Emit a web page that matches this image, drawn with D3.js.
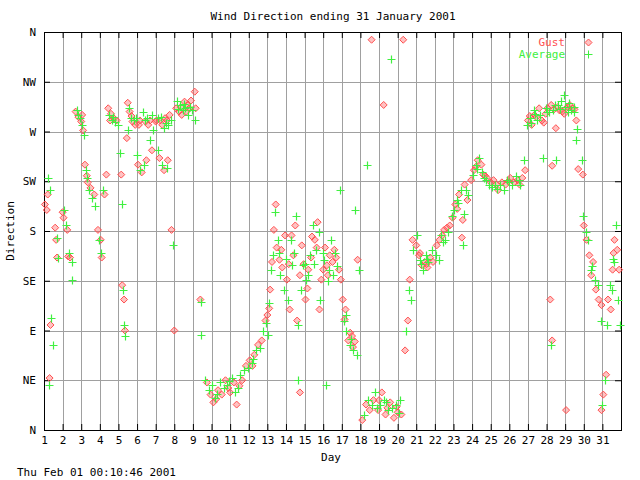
<!DOCTYPE html>
<html>
<head>
<meta charset="utf-8">
<script src="https://cdnjs.cloudflare.com/ajax/libs/d3/7.8.5/d3.min.js"></script>
<style>
body { margin: 0; background: #fff; }
text { font-family: "DejaVu Sans Mono", monospace; font-size: 11px; fill: #000; }
</style>
</head>
<body>
<div id="chart"></div>
<script>
var w = 640;
var h = 480;

var dirTicks = [0, 45, 90, 135, 180, 225, 270, 315, 360];
var dirLabels = ["N", "NE", "E", "SE", "S", "SW", "W", "NW", "N"];
var dayTicks = d3.range(1, 32);

// [day, direction in degrees]
var gust = [
  [1.05,204],[1.15,199],[1.2,213],[1.35,95],[1.3,47],[1.6,183],[1.65,172],[1.7,156],
  [2.0,197],[2.05,192],[2.25,181],[2.3,157],[2.4,156],
  [2.7,288],[2.85,283],[3.0,279],[3.05,285],[3.1,271],[3.2,240],[3.3,230],[3.35,224],[3.5,219],[3.7,213],
  [3.9,181],[4.05,172],[4.1,156],[4.25,213],
  [4.45,291],[4.55,280],[4.6,286],[4.75,282],[4.9,280],[4.35,231],
  [5.15,231],[5.2,131],[5.3,118],[5.35,90],
  [5.5,296],[5.6,288],[5.7,284],[5.75,279],[5.9,276],[5.45,264],
  [6.05,240],[6.25,233],[6.5,244],[6.8,253],
  [6.1,276],[6.15,280],[6.45,279],[6.6,276],[6.7,280],[7.0,279],
  [7.05,280],[7.25,280],[7.35,276],[7.5,282],[7.6,280],[7.75,285],[7.2,246],[7.45,235],[7.65,244],
  [7.85,181],[8.0,90],
  [8.1,291],[8.25,288],[8.35,292],[8.4,285],[8.55,297],[8.65,288],[8.7,294],[8.8,291],
  [8.9,298],[9.1,306],[9.15,291],
  [9.4,118],
  [9.75,43],[9.95,32],[10.1,25],[10.25,28],[10.35,36],[10.55,32],[10.75,45],[10.9,38],
  [11.0,34],[11.2,43],[11.35,23],[11.5,40],
  [11.65,45],[11.85,58],[12.05,63],[12.2,58],[12.3,68],[12.5,77],[12.7,81],[12.9,99],[13.0,104],
  [13.1,110],[13.15,127],[13.25,152],[13.35,181],[13.45,204],[13.5,165],[13.65,154],
  [13.75,163],[13.8,147],[13.95,176],
  [14.05,136],[14.15,150],[14.2,109],[14.3,176],[14.4,158],[14.5,185],[14.6,99],[14.75,140],
  [14.85,167],[14.95,150],[14.75,34],
  [15.05,118],[15.15,128],[15.2,145],[15.35,156],[15.4,175],[15.55,172],[15.65,165],
  [15.7,188],[15.8,109],[15.9,136],
  [16.0,145],[16.1,165],[16.2,149],[16.25,140],[16.35,158],[16.5,152],[16.6,163],[16.7,156],
  [16.85,145],[16.95,136],
  [17.05,118],[17.15,100],[17.2,109],[17.35,81],[17.45,88],[17.55,85],[17.6,75],[17.7,80],[17.85,154],
  [18.1,9],[18.3,23],[18.5,18],[18.7,27],[18.95,18],[19.0,27],[19.15,34],[19.35,14],[19.45,20],
  [19.6,25],[19.8,11],[19.95,21],[20.0,16],[20.2,14],[18.6,353],[19.25,294],[20.3,353],
  [20.4,72],[20.55,99],[20.65,136],[20.8,172],
  [21.0,167],[21.15,158],[21.2,160],[21.3,149],[21.45,152],[21.55,150],[21.6,147],[21.75,156],[21.9,152],
  [22.1,167],[22.25,172],[22.4,176],[22.5,181],[22.65,183],[22.8,185],[22.95,192],
  [23.1,204],[23.2,200],[23.3,213],[23.45,174],[23.5,190],[23.6,222],[23.75,208],[23.95,226],
  [24.1,235],[24.2,238],[24.3,244],[24.5,240],[24.6,231],[24.7,230],[24.8,228],
  [25.0,224],[25.15,226],[25.3,222],[25.4,217],[25.6,224],[25.8,222],[25.95,225],[26.05,228],
  [26.25,224],[26.45,226],[26.55,222],[26.7,228],[26.85,235],
  [27.0,280],[27.1,284],[27.2,276],[27.35,285],[27.45,283],[27.6,291],[27.75,280],[27.85,278],
  [27.95,286],[28.05,291],[28.25,294],[28.4,290],[28.5,273],[28.3,239],[28.6,292],[28.7,289],
  [28.85,288],[28.95,286],[29.05,291],[29.15,292],[29.25,294],[29.4,291],[29.5,290],[29.6,280],
  [29.7,236],[28.2,118],[28.3,81],[29.05,18],
  [29.95,231],[30.0,185],[30.15,172],[30.3,158],[30.4,140],[30.5,152],[30.65,127],[30.8,118],[30.95,113],
  [30.95,18],[31.05,32],[31.2,50],[31.3,118],[31.45,109],[31.55,145],[31.6,160],[31.65,172],
  [31.8,163],[31.9,145]
];

var average = [
  [1.2,228],[1.3,217],[1.35,101],[1.5,77],[1.25,41],[1.7,174],[1.75,156],
  [2.1,199],[2.2,185],[2.35,160],[2.5,152],[2.5,136],
  [2.75,289],[2.8,285],[2.95,282],[3.05,276],[3.15,267],[3.25,235],[3.3,228],[3.4,217],
  [3.6,210],[3.75,203],
  [3.95,172],[4.05,160],[4.15,217],
  [4.5,285],[4.65,280],[4.7,283],[4.8,279],[4.95,276],
  [5.1,251],[5.2,204],[5.25,127],[5.3,95],[5.35,85],
  [5.55,291],[5.65,282],[5.85,280],[5.95,282],[5.5,271],
  [6.0,249],[6.15,235],[6.35,240],[6.7,262],[6.85,271],
  [6.3,288],[6.4,280],[6.55,282],[6.8,285],
  [7.15,282],[7.3,283],[7.45,273],[7.55,278],[7.65,276],[7.85,280],[7.1,253],[7.35,240],[7.6,237],
  [7.95,167],
  [8.15,298],[8.2,290],[8.3,294],[8.45,289],[8.5,295],[8.6,291],[8.75,285],[8.85,292],
  [8.95,289],[9.1,280],
  [9.45,116],[9.45,86],
  [9.65,45],[9.85,36],[10.05,41],[10.2,29],[10.3,33],[10.45,43],[10.65,38],[10.85,41],
  [10.95,44],[11.1,47],[11.25,34],[11.4,38],
  [11.55,50],[11.75,54],[11.95,56],[12.15,61],[12.25,64],[12.4,72],[12.6,74],[12.75,90],[12.95,97],
  [13.05,86],[13.1,115],[13.2,145],[13.3,158],[13.4,197],[13.55,172],[13.6,160],[13.7,140],[13.9,127],
  [14.0,155],[14.1,118],[14.25,172],[14.35,149],[14.45,160],[14.55,194],[14.65,95],[14.8,127],
  [14.9,149],[14.65,45],
  [15.0,150],[15.1,136],[15.2,140],[15.3,158],[15.45,185],[15.5,150],[15.6,163],[15.75,179],[15.85,118],
  [16.0,160],[16.05,154],[16.15,41],[16.25,135],[16.3,145],[16.4,172],[16.55,140],[16.65,160],
  [16.75,148],[16.9,217],
  [17.1,99],[17.2,104],[17.25,90],[17.45,77],[17.5,82],[17.6,72],[17.8,68],[17.9,145],[17.7,199],[18.35,240],
  [18.2,14],[18.4,27],[18.6,23],[18.8,34],[18.9,20],[19.05,23],[19.25,27],[19.4,25],[19.5,18],
  [19.7,20],[19.9,23],[20.05,15],[20.1,27],[19.65,336],
  [20.45,90],[20.6,127],[20.7,118],[20.85,163],
  [21.05,176],[21.2,154],[21.25,150],[21.35,145],[21.5,158],[21.6,155],[21.65,152],[21.85,163],
  [22.05,158],[22.2,154],[22.35,176],[22.45,170],[22.55,172],[22.7,179],[22.9,194],
  [23.05,199],[23.2,208],[23.25,205],[23.4,217],[23.5,167],[23.55,195],[23.65,217],[23.8,213],
  [24.05,231],[24.2,240],[24.25,236],[24.35,246],[24.55,233],[24.65,228],[24.75,226],[24.9,222],
  [25.05,220],[25.25,222],[25.35,218],[25.5,222],[25.7,217],[25.9,226],[26.0,224],[26.15,222],
  [26.35,230],[26.5,226],[26.6,222],[26.8,244],
  [26.95,276],[27.1,282],[27.15,278],[27.3,289],[27.4,286],[27.5,280],[27.65,285],[27.8,246],
  [27.95,291],[28.0,288],
  [28.15,288],[28.35,289],[28.45,294],[28.5,244],[28.6,294],[28.7,290],[28.8,298],[28.95,303],
  [29.0,292],[29.15,288],[29.2,296],
  [29.3,289],[29.45,292],[29.5,288],[29.65,272],[29.6,262],[28.25,77],
  [29.9,244],[29.95,194],[30.1,179],[30.25,172],[30.4,145],[30.45,148],[30.6,136],[30.75,131],[30.9,99],
  [31.0,23],[31.15,45],[31.25,95],[31.4,131],[31.5,127],[31.55,155],[31.6,152],[31.75,185],
  [31.85,118],[31.95,95]
];

var plotLeft = 44, plotRight = 621, plotTop = 32, plotBottom = 430;

var xScale = d3.scaleLinear()
               .domain([1, 32])
               .range([plotLeft, plotRight]);

var yScale = d3.scaleLinear()
               .domain([0, 360])
               .range([plotBottom, plotTop]);

var svg = d3.select("#chart")
            .append("svg")
            .attr("width", w)
            .attr("height", h);

//Grid
svg.append("g")
   .selectAll("line")
   .data(dayTicks.slice(1))
   .enter()
   .append("line")
   .attr("x1", function(d) { return Math.round(xScale(d)) + 0.5; })
   .attr("x2", function(d) { return Math.round(xScale(d)) + 0.5; })
   .attr("y1", plotTop)
   .attr("y2", plotBottom)
   .attr("stroke", "#a0a0a0");

svg.append("g")
   .selectAll("line")
   .data(dirTicks.slice(1, -1))
   .enter()
   .append("line")
   .attr("x1", plotLeft)
   .attr("x2", plotRight)
   .attr("y1", function(d) { return Math.round(yScale(d)) + 0.5; })
   .attr("y2", function(d) { return Math.round(yScale(d)) + 0.5; })
   .attr("stroke", "#a0a0a0");

//Axes (ticks pointing inwards)
var xAxis = d3.axisBottom(xScale)
              .tickValues(dayTicks)
              .tickSize(-6)
              .tickPadding(6)
              .tickFormat(d3.format("d"));

var xAxisTop = d3.axisTop(xScale)
                 .tickValues(dayTicks)
                 .tickSize(-6)
                 .tickFormat("");

var yAxis = d3.axisLeft(yScale)
              .tickValues(dirTicks)
              .tickSize(-6)
              .tickPadding(8)
              .tickFormat(function(d, i) { return dirLabels[i]; });

var yAxisRight = d3.axisRight(yScale)
                   .tickValues(dirTicks)
                   .tickSize(-6)
                   .tickFormat("");

function styleAxis(g) {
  g.select(".domain").remove();
  g.selectAll("line").attr("stroke", "#000");
  g.selectAll("text").attr("font-family", null).attr("font-size", null);
}

svg.append("g")
   .attr("transform", "translate(0," + plotBottom + ")")
   .call(xAxis)
   .call(styleAxis);

svg.append("g")
   .attr("transform", "translate(0," + plotTop + ")")
   .call(xAxisTop)
   .call(styleAxis);

svg.append("g")
   .attr("transform", "translate(" + plotLeft + ",0)")
   .call(yAxis)
   .call(styleAxis);

svg.append("g")
   .attr("transform", "translate(" + plotRight + ",0)")
   .call(yAxisRight)
   .call(styleAxis);

//Border
svg.append("rect")
   .attr("x", plotLeft + 0.5)
   .attr("y", plotTop + 0.5)
   .attr("width", plotRight - plotLeft)
   .attr("height", plotBottom - plotTop)
   .attr("fill", "none")
   .attr("stroke", "#000");

var gustColor = "#ff5050";
var avgColor = "#40f040";

function diamond(x, y) {
  return "M" + x + "," + (y - 3.5) + "L" + (x + 3.5) + "," + y +
         "L" + x + "," + (y + 3.5) + "L" + (x - 3.5) + "," + y + "Z";
}
function plus(x, y) {
  return "M" + (x - 4) + "," + y + "H" + (x + 4) +
         "M" + x + "," + (y - 4) + "V" + (y + 4);
}

//Gust points
svg.append("g")
   .selectAll("path")
   .data(gust)
   .enter()
   .append("path")
   .attr("d", function(d) { return diamond(xScale(d[0]), yScale(d[1])); })
   .attr("fill", "rgba(255,80,80,0.35)")
   .attr("stroke", gustColor)
   .attr("stroke-width", 1);

//Average points
svg.append("g")
   .selectAll("path")
   .data(average)
   .enter()
   .append("path")
   .attr("d", function(d) { return plus(Math.round(xScale(d[0])) + 0.5, Math.round(yScale(d[1])) + 0.5); })
   .attr("fill", "none")
   .attr("stroke", avgColor)
   .attr("stroke-width", 1.2);

//Legend
var legend = [["Gust", gustColor, diamond], ["Average", avgColor, plus]];
legend.forEach(function(l, i) {
  var ly = 42 + i * 12;
  svg.append("text")
     .attr("x", 565)
     .attr("y", ly + 4)
     .attr("text-anchor", "end")
     .style("fill", l[1])
     .text(l[0]);
  svg.append("path")
     .attr("d", l[2](588.5, ly + 0.5))
     .attr("fill", i == 0 ? "rgba(255,80,80,0.35)" : "none")
     .attr("stroke", l[1]);
});

//Titles
svg.append("text")
   .attr("x", 333)
   .attr("y", 20)
   .attr("text-anchor", "middle")
   .text("Wind Direction ending 31 January 2001");

svg.append("text")
   .attr("x", 331)
   .attr("y", 461)
   .attr("text-anchor", "middle")
   .text("Day");

svg.append("text")
   .attr("transform", "translate(14,231) rotate(-90)")
   .attr("text-anchor", "middle")
   .text("Direction");

svg.append("text")
   .attr("x", 17)
   .attr("y", 476)
   .text("Thu Feb 01 00:10:46 2001");
</script>
</body>
</html>
